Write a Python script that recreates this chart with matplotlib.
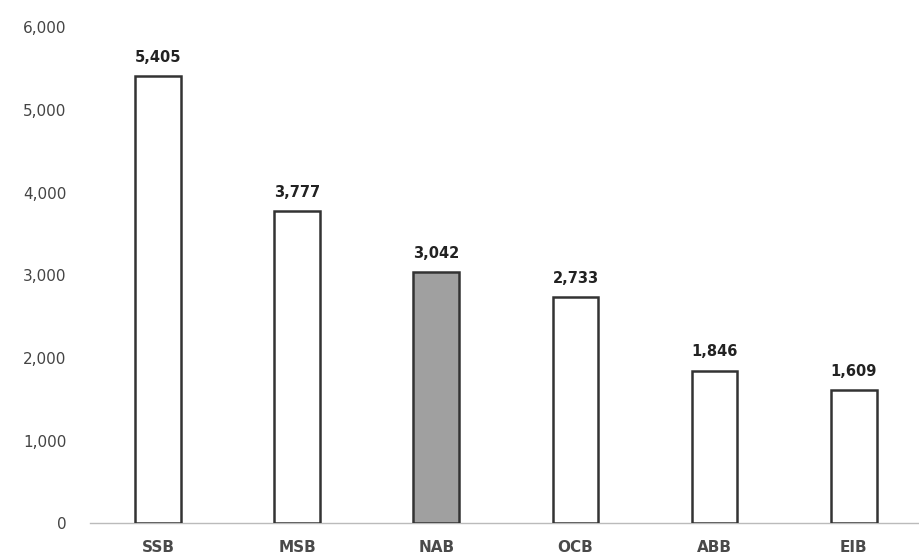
import matplotlib.pyplot as plt
import numpy as np

banks = ["SSB", "MSB", "NAB", "OCB", "ABB", "EIB"]
values = [5405, 3777, 3042, 2733, 1846, 1609]
highlight = "NAB"

y_ticks = [0, 1000, 2000, 3000, 4000, 5000, 6000]

plt.rcParams["font.family"] = ["DejaVu Sans"]

fig = plt.figure(figsize=(9.19, 5.56), dpi=100)
ax = fig.add_axes([0.098, 0.059, 0.902, 0.892])

x = np.arange(len(banks))
colors = ["#a0a0a0" if b == highlight else "white" for b in banks]
ax.bar(x, values, width=0.33, color=colors, edgecolor="#333333", linewidth=1.8, zorder=3)

for xi, v in zip(x, values):
    ax.annotate(f"{v:,}", (xi, v), xytext=(0, 8), textcoords="offset points",
                ha="center", va="bottom", fontsize=10.5, fontweight="bold", color="#222222")

ax.set_xlim(-0.49, 5.47)
ax.set_ylim(0, 6000)
ax.set_yticks(y_ticks)
ax.set_yticklabels([f"{t:,}" for t in y_ticks])
ax.set_xticks(x)
ax.set_xticklabels(banks)

for side in ["top", "right", "left"]:
    ax.spines[side].set_visible(False)
ax.spines["bottom"].set_color("#bbbbbb")
ax.spines["bottom"].set_linewidth(1.0)

ax.tick_params(axis="y", length=0, pad=17, labelsize=11, labelcolor="#444444")
ax.tick_params(axis="x", length=0, pad=12, labelsize=11, labelcolor="#4a4a4a")
for lbl in ax.get_xticklabels():
    lbl.set_fontweight("bold")

fig.savefig("out.png", dpi=100)
